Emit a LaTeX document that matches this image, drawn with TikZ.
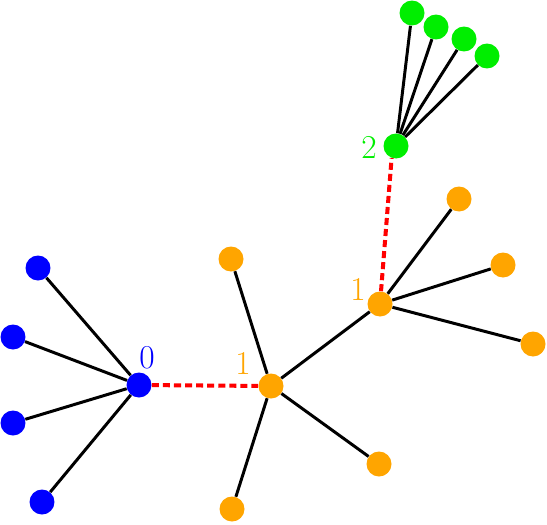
\documentclass[tikz,border=0pt]{standalone}
\usepackage{xcolor}
\usepackage{tikz}
\usetikzlibrary{positioning}

\definecolor{tblue}{RGB}{0,0,255}
\definecolor{torange}{RGB}{255,165,0}
\definecolor{tgreen}{RGB}{0,238,0}

\tikzset{
  dot/.style={circle,minimum size=0.5cm,inner sep=0pt},
  bdot/.style={dot,fill=tblue},
  odot/.style={dot,fill=torange},
  gdot/.style={dot,fill=tgreen},
  edge/.style={black,line width=1.7pt},
  link/.style={red,line width=2.3pt,dash pattern=on 4pt off 2.3pt},
  lbl/.style={font=\fontsize{19}{22}\selectfont,inner sep=0pt}
}

\begin{document}
\begin{tikzpicture}[x=0.02cm,y=-0.02cm]
\useasboundingbox (0,0) rectangle (547,524);
% blue star
\node[bdot] (b) at (139,385) {};
\foreach \p [count=\i] in {(38,268),(13,337),(13,423),(42,502)} {
  \node[bdot] (b\i) at \p {};
  \draw[edge] (b) -- (b\i);
}
\node[lbl,text=tblue] (lb) at (147,358) {0};
% first orange star
\node[odot] (o) at (271,386) {};
\foreach \p [count=\i] in {(231,259),(379,464),(232,509)} {
  \node[odot] (o\i) at \p {};
  \draw[edge] (o) -- (o\i);
}
\node[lbl,text=torange] (lo) at (243,363) {1};
% second orange star
\node[odot] (p) at (380,304) {};
\draw[edge] (o) -- (p);
\foreach \p [count=\i] in {(459,199),(503,265),(533,344)} {
  \node[odot] (p\i) at \p {};
  \draw[edge] (p) -- (p\i);
}
\node[lbl,text=torange] (lp) at (358,289) {1};
% green star
\node[gdot] (g) at (396,146) {};
\foreach \p [count=\i] in {(412,13),(436,27),(464,39),(487,56)} {
  \node[gdot] (g\i) at \p {};
  \draw[edge] (g) -- (g\i);
}
\node[lbl,text=tgreen] (lg) at (369,147) {2};
% links between stars
\draw[link] (b) -- (o);
\draw[link] (p) -- (g.250);
\end{tikzpicture}
\end{document}
